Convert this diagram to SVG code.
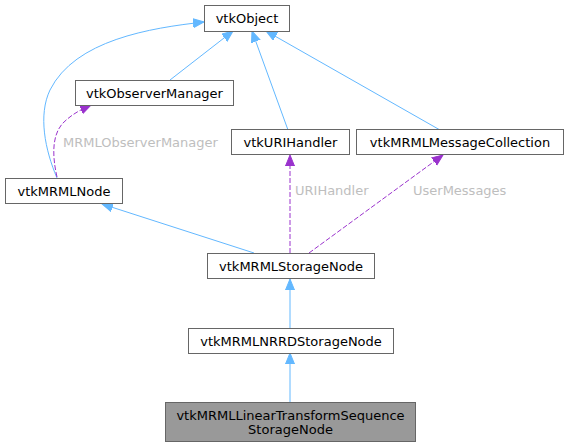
<svg xmlns="http://www.w3.org/2000/svg" width="569" height="448" viewBox="0 0 569 448">
<style>
.box{fill:#ffffff;stroke:#666666;stroke-width:1}
.cur{fill:#999999;stroke:#666666;stroke-width:1}
.t{font-family:"DejaVu Sans","Liberation Sans",sans-serif;font-size:13px;fill:#000000;text-anchor:middle}
.lbl{font-family:"DejaVu Sans","Liberation Sans",sans-serif;font-size:13px;fill:#bebebe}
.inh{fill:none;stroke:#63b8ff;stroke-width:1;marker-end:url(#ab)}
.use{fill:none;stroke:#9a32cd;stroke-width:1;stroke-dasharray:5,2;marker-end:url(#ap)}
</style>
<defs>
<marker id="ab" markerUnits="userSpaceOnUse" markerWidth="14" markerHeight="12" refX="11" refY="5" orient="auto">
<path d="M0,0.5 L11,5 L0,9.5 z" fill="#63b8ff" stroke="#63b8ff" stroke-width="1"/>
</marker>
<marker id="ap" markerUnits="userSpaceOnUse" markerWidth="14" markerHeight="12" refX="11" refY="5" orient="auto">
<path d="M0,0.5 L11,5 L0,9.5 z" fill="#9a32cd" stroke="#9a32cd" stroke-width="1"/>
</marker>
</defs>
<rect width="569" height="448" fill="#ffffff"/>
<g id="connectors">
<path class="inh" d="M170,80 L233,31"/>
<path class="inh" d="M57,178 C45,150 38,115 50,90 C75,40 150,28 204,22"/>
<path class="inh" d="M288,130 L252,31"/>
<path class="inh" d="M440,130 L266,31"/>
<path class="use" d="M57,177 C52,155 52,135 63,123 C72,114 82,109 91,105"/>
<path class="inh" d="M254,253 L102,204"/>
<path class="use" d="M290,253 L290,155"/>
<path class="use" d="M309,253 L443,155"/>
<path class="inh" d="M290,328 L290,279"/>
<path class="inh" d="M290,402 L290,353"/>
<text class="lbl" x="63" y="146.5">MRMLObserverManager</text>
<text class="lbl" x="295" y="195">URIHandler</text>
<text class="lbl" x="413" y="195">UserMessages</text>
</g>
<g id="vtkObject"><rect class="box" x="204.5" y="5.5" width="85" height="26"/><text class="t" x="247" y="23">vtkObject</text></g>
<g id="vtkObserverManager"><rect class="box" x="75.5" y="80.5" width="158" height="25"/><text class="t" x="154.5" y="97.5">vtkObserverManager</text></g>
<g id="vtkURIHandler"><rect class="box" x="231.5" y="129.5" width="118" height="25"/><text class="t" x="290.5" y="146.5">vtkURIHandler</text></g>
<g id="vtkMRMLMessageCollection"><rect class="box" x="356.5" y="129.5" width="207" height="25"/><text class="t" x="460" y="146.5">vtkMRMLMessageCollection</text></g>
<g id="vtkMRMLNode"><rect class="box" x="5.5" y="178.5" width="117" height="25"/><text class="t" x="64" y="195.5">vtkMRMLNode</text></g>
<g id="vtkMRMLStorageNode"><rect class="box" x="207.5" y="253.5" width="167" height="25"/><text class="t" x="291" y="270.5">vtkMRMLStorageNode</text></g>
<g id="vtkMRMLNRRDStorageNode"><rect class="box" x="188.5" y="328.5" width="205" height="25"/><text class="t" x="291" y="345.5">vtkMRMLNRRDStorageNode</text></g>
<g id="vtkMRMLLinearTransformSequenceStorageNode"><rect class="cur" x="165.5" y="402.5" width="250" height="39"/><text class="t" x="290.5" y="419.5">vtkMRMLLinearTransformSequence</text><text class="t" x="290.5" y="434">StorageNode</text></g>
</svg>
